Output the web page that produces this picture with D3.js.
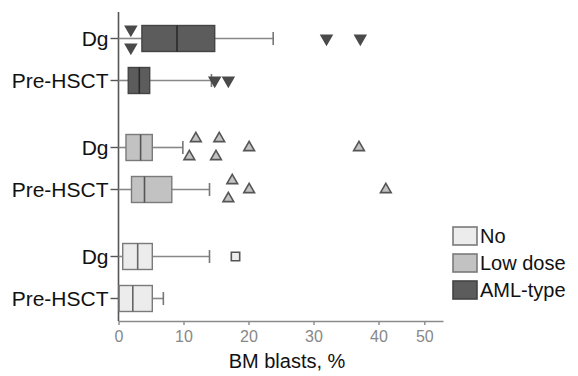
<!DOCTYPE html>
<html>
<head>
<meta charset="utf-8">
<script src="https://cdn.jsdelivr.net/npm/d3@7"></script>
<style>
  body { margin: 0; background: #fff; }
  text { font-family: "Liberation Sans", Arial, sans-serif; }
</style>
</head>
<body>
<div id="chart"></div>
<script>
// groups (top to bottom) and stages inside each group
var groups = ["AML-type", "Low dose", "No"];
var stages = ["Dg", "Pre-HSCT"];
var legendOrder = ["No", "Low dose", "AML-type"];

// box stats per group: [min, q1, median, q3, max] for Dg and Pre-HSCT
var amlStats = [[0, 3.6, 9.0, 14.8, 23.8], [0, 1.5, 3.2, 4.8, 14.3]];
var lowStats = [[0, 1.15, 3.4, 5.2, 9.9], [0, 2.0, 4.0, 8.2, 14.0]];
var noStats  = [[0, 0.65, 2.95, 5.2, 14.0], [0, 0.1, 2.2, 5.2, 6.9]];

// outliers: [value, lane] (lane -1 above, 0 centre, 1 below)
var amlOut = [[[1.9, -1], [1.9, 1], [32.0, 0], [37.2, 0]], [[14.8, 0], [16.9, 0]]];
var lowOut = [[[11.9, -1], [10.9, 1], [15.5, -1], [15.0, 1], [20.1, 0], [37.0, 0]],
              [[17.5, -1], [16.9, 1], [20.1, 0], [41.6, 0]]];
var noOut  = [[[18.0, 0]], []];

var xTicks = [0, 10, 20, 30, 40, 50];

var stats = {"AML-type": amlStats, "Low dose": lowStats, "No": noStats};
var outs = {"AML-type": amlOut, "Low dose": lowOut, "No": noOut};
var style = {
  "AML-type": {fill: "#5c5c5c", stroke: "#444", med: "#2a2a2a", sym: d3.symbolTriangle, rot: 180},
  "Low dose": {fill: "#c2c2c2", stroke: "#7a7a7a", med: "#555", sym: d3.symbolTriangle, rot: 0},
  "No":       {fill: "#ececec", stroke: "#7a7a7a", med: "#666", sym: d3.symbolSquare, rot: 0}
};

var W = 578, H = 376;
var svg = d3.select("#chart").append("svg")
    .attr("width", W)
    .attr("height", H);

// x scale (the printed axis is a little squeezed between 40 and 50)
var x = d3.scaleLinear()
  .domain([0, 40, 50, 54])
  .range([118.5, 378.5, 424.3, 443]);

var yGroup = d3.scaleBand()
  .domain(groups)
  .range([5, 332])
  .paddingInner(0)
  .paddingOuter(0);
var yStage = d3.scalePoint()
  .domain(stages)
  .range([-21, 21]);
var lane = d3.scaleLinear().domain([-1, 1]).range([-9, 9]);

function rowY(g, s) { return yGroup(g) + yGroup.bandwidth() / 2 + yStage(s); }

var boxH = 26;

// x axis
var xAxis = svg.append("g")
  .attr("transform", "translate(0,321)")
  .call(d3.axisBottom(x).tickValues(xTicks).tickSize(4).tickPadding(6).tickSizeOuter(0));
xAxis.select(".domain").attr("stroke", "#8a8a8a").attr("stroke-width", 1.6);
xAxis.selectAll(".tick line").attr("stroke", "#8a8a8a").attr("stroke-width", 1.4);
xAxis.selectAll(".tick text").attr("fill", "#888").style("font-size", "16px")
  .style("font-family", "'Liberation Sans', Arial, sans-serif");

// y axis line
svg.append("line")
  .attr("x1", x(0)).attr("x2", x(0))
  .attr("y1", 12).attr("y2", 321)
  .attr("stroke", "#555").attr("stroke-width", 1.6);

groups.forEach(function(g) {
  var st = style[g];
  stages.forEach(function(s, i) {
    var d = stats[g][i];
    var cy = rowY(g, s);
    var row = svg.append("g");

    // y tick + label
    row.append("line")
      .attr("x1", x(0) - 8).attr("x2", x(0))
      .attr("y1", cy).attr("y2", cy)
      .attr("stroke", "#555").attr("stroke-width", 1.4);
    row.append("text")
      .attr("x", x(0) - 10)
      .attr("y", cy)
      .attr("dy", "0.35em")
      .attr("text-anchor", "end")
      .style("font-size", "21px")
      .attr("fill", "#111")
      .text(s);

    // whiskers
    row.append("line")
      .attr("x1", x(d[0])).attr("x2", x(d[1]))
      .attr("y1", cy).attr("y2", cy)
      .attr("stroke", "#888").attr("stroke-width", 1.6);
    row.append("line")
      .attr("x1", x(d[3])).attr("x2", x(d[4]))
      .attr("y1", cy).attr("y2", cy)
      .attr("stroke", "#888").attr("stroke-width", 1.6);
    row.append("line")
      .attr("x1", x(d[4])).attr("x2", x(d[4]))
      .attr("y1", cy - 6.5).attr("y2", cy + 6.5)
      .attr("stroke", "#777").attr("stroke-width", 1.6);

    // box
    row.append("rect")
      .attr("x", x(d[1]))
      .attr("y", cy - boxH / 2)
      .attr("width", x(d[3]) - x(d[1]))
      .attr("height", boxH)
      .attr("fill", st.fill)
      .attr("stroke", st.stroke)
      .attr("stroke-width", 1.4);
    row.append("line")
      .attr("x1", x(d[2])).attr("x2", x(d[2]))
      .attr("y1", cy - boxH / 2).attr("y2", cy + boxH / 2)
      .attr("stroke", st.med).attr("stroke-width", 1.6);

    // outliers
    row.selectAll("path.out")
      .data(outs[g][i])
      .enter()
      .append("path")
        .attr("class", "out")
        .attr("d", d3.symbol().type(st.sym).size(g == "No" ? 70 : 50))
        .attr("transform", function(o) {
          return "translate(" + x(o[0]) + "," + (cy + lane(o[1])) + ") rotate(" + st.rot + ")";
        })
        .attr("fill", g == "AML-type" ? "#4a4a4a" : st.fill)
        .attr("stroke", g == "AML-type" ? "#4a4a4a" : "#555")
        .attr("stroke-width", 1.6);
  });
});

// x label
svg.append("text")
  .attr("x", 287)
  .attr("y", 368)
  .attr("text-anchor", "middle")
  .style("font-size", "20px")
  .attr("fill", "#111")
  .text("BM blasts, %");

// legend
var legend = svg.append("g");
legendOrder.forEach(function(g, i) {
  var ly = 236 + i * 27;
  legend.append("rect")
    .attr("x", 453).attr("y", ly - 9)
    .attr("width", 24).attr("height", 18)
    .attr("fill", style[g].fill)
    .attr("stroke", style[g].stroke)
    .attr("stroke-width", 1.6);
  legend.append("text")
    .attr("x", 480).attr("y", ly)
    .attr("dy", "0.35em")
    .style("font-size", "20px")
    .attr("fill", "#111")
    .text(g);
});
</script>
</body>
</html>
